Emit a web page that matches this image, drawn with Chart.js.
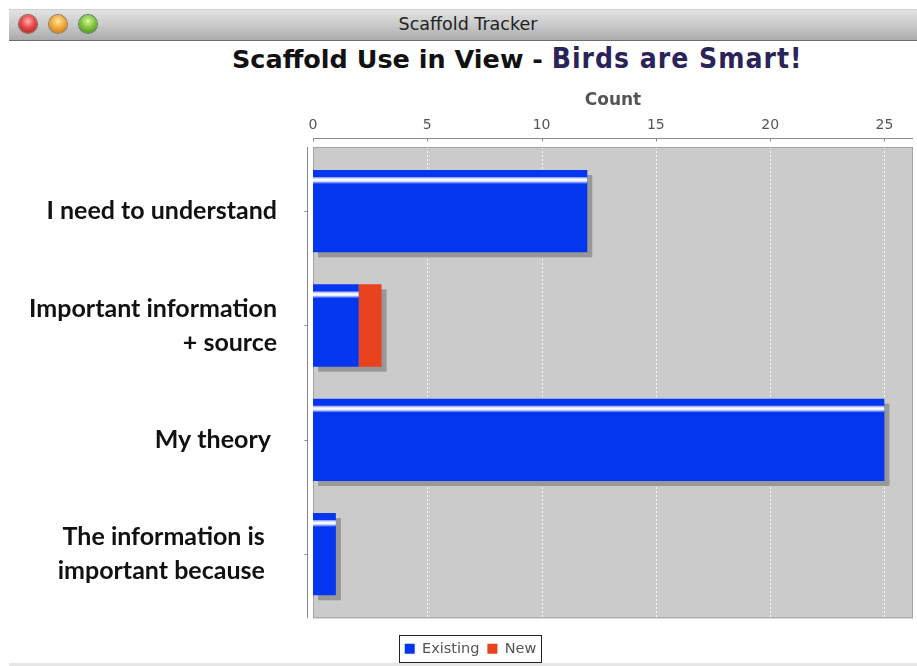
<!DOCTYPE html>
<html>
<head>
<meta charset="utf-8">
<script src="https://cdn.jsdelivr.net/npm/chart.js@4/dist/chart.umd.min.js"></script>
<style>
  html, body { margin: 0; padding: 0; background: #ffffff; }
  body { width: 917px; height: 666px; position: relative; overflow: hidden; }
  #titlebar { position: absolute; left: 9px; top: 9px; width: 908px; height: 30px;
    background: linear-gradient(#e2e2e2, #c9c9c9 50%, #ababab); border-bottom: 1px solid #6d6d6d;
    border-top: 1px solid #d0d0d0; }
  #titlebar .t { position: absolute; left: 0; width: 916px; top: 4px; text-align: center;
    font: 17.5px "DejaVu Sans", sans-serif; color: #222; margin-left: 1px; }
  .dot { position: absolute; top: 5px; width: 18px; height: 18px; border-radius: 50%; }
  #d1 { left: 10px; background: radial-gradient(circle at 50% 35%, #ffb0b0 0%, #e8474a 45%, #9e1b1d 100%); box-shadow: 0 0 0 1px #8a5a5a; }
  #d2 { left: 40px; background: radial-gradient(circle at 50% 35%, #ffe9a8 0%, #f4a93a 45%, #b7671a 100%); box-shadow: 0 0 0 1px #8a7a5a; }
  #d3 { left: 70px; background: radial-gradient(circle at 50% 35%, #d6f5a0 0%, #84c440 45%, #3f7d1a 100%); box-shadow: 0 0 0 1px #5a7a5a; }
  #charttitle { position: absolute; left: 232px; top: 42px; white-space: nowrap; }
  #charttitle .a { font: bold 25.5px "DejaVu Sans", sans-serif; color: #111; }
  #charttitle .b { font: bold 28px "DejaVu Sans Condensed", "DejaVu Sans", sans-serif; color: #2b2459; letter-spacing: 1px; }
  #bottombar { position: absolute; left: 9px; top: 663px; width: 908px; height: 3px; background: #e6e6e6; }
  #c { position: absolute; left: 0; top: 0; }
</style>
</head>
<body>
<div id="titlebar"><div class="dot" id="d1"></div><div class="dot" id="d2"></div><div class="dot" id="d3"></div><div class="t">Scaffold Tracker</div></div>
<div id="charttitle"><span class="a">Scaffold Use in View - </span><span class="b">Birds are Smart!</span></div>
<div id="bottombar"></div>
<canvas id="c" width="917" height="666"></canvas>
<script>
// ---- data ----
const categories = [
  ["I need to understand"],
  ["Important information", "+ source"],
  ["My theory "],
  ["The information is  ", "important because  "]
];
const seriesNames = ["Existing", "New"];
const existingValues = [12, 2, 25, 1];
const newValues = [0, 1, 0, 0];
const xTickValues = [0, 5, 10, 15, 20, 25];
const axisTitle = "Count";

const BLUE = "#0436f0";
const RED = "#e8421e";
const PLOT_EXT = 7;
const LEGEND_SHIFT = 14;

const chromePlugin = {
  id: "chrome",
  afterLayout(chart) {
    if (chart.legend) { chart.legend.left += LEGEND_SHIFT; chart.legend.right += LEGEND_SHIFT; }
  },
  beforeDatasetsDraw(chart) {
    const { ctx, chartArea: a, scales } = chart;
    const top = a.top - PLOT_EXT, bottom = a.bottom + PLOT_EXT;
    ctx.save();
    ctx.fillStyle = "#cbcbcb";
    ctx.fillRect(a.left, top, a.right - a.left, bottom - top);
    // grid lines
    ctx.strokeStyle = "rgba(255,255,255,0.85)";
    ctx.lineWidth = 1;
    ctx.setLineDash([2, 2]);
    xTickValues.forEach(v => {
      if (v === 0) return;
      const x = Math.round(scales.x.getPixelForValue(v)) + 0.5;
      ctx.beginPath(); ctx.moveTo(x, top); ctx.lineTo(x, bottom); ctx.stroke();
    });
    ctx.setLineDash([]);
    // outline
    ctx.strokeStyle = "#a2a2a2";
    ctx.strokeRect(a.left + 0.5, top + 0.5, a.right - a.left - 1, bottom - top - 1);
    // top axis line + ticks
    ctx.strokeStyle = "#8a8a8a";
    const ay = top - 8.5;
    ctx.beginPath(); ctx.moveTo(a.left, ay); ctx.lineTo(a.right, ay); ctx.stroke();
    xTickValues.forEach(v => {
      const x = Math.round(scales.x.getPixelForValue(v)) + 0.5;
      ctx.beginPath(); ctx.moveTo(x, ay); ctx.lineTo(x, ay + 3); ctx.stroke();
    });
    // left axis line + ticks
    const ax = a.left - 5.5;
    ctx.beginPath(); ctx.moveTo(ax, top); ctx.lineTo(ax, bottom); ctx.stroke();
    categories.forEach((c, i) => {
      const y = Math.round(scales.y.getPixelForValue(i)) + 0.5;
      ctx.beginPath(); ctx.moveTo(ax - 3, y); ctx.lineTo(ax, y); ctx.stroke();
    });
    // drop shadows of the full stacked bars
    ctx.fillStyle = "#989898";
    const metas = chart.data.datasets.map((d, di) => chart.getDatasetMeta(di));
    categories.forEach((c, i) => {
      let lo = Infinity, hi = -Infinity, yt = 0, h = 0;
      metas.forEach((m, di) => {
        const v = chart.data.datasets[di].data[i];
        if (!v) return;
        const p = m.data[i].getProps(["x", "y", "base", "height"], true);
        lo = Math.min(lo, p.base, p.x); hi = Math.max(hi, p.base, p.x);
        yt = p.y - p.height / 2; h = p.height;
      });
      if (hi > lo) ctx.fillRect(lo + 5, yt + 5, hi - lo, h);
    });
    ctx.restore();
  },
  afterDatasetsDraw(chart) {
    const { ctx } = chart;
    // highlight stripe on Existing bars
    const meta = chart.getDatasetMeta(0);
    ctx.save();
    meta.data.forEach((el, i) => {
      if (!existingValues[i]) return;
      const p = el.getProps(["x", "y", "base", "height"], true);
      const t = p.y - p.height / 2 + 7;
      const h = 7;
      const g = ctx.createLinearGradient(0, t, 0, t + h);
      g.addColorStop(0, "#7d92ff");
      g.addColorStop(0.35, "#ffffff");
      g.addColorStop(0.6, "#e6eaff");
      g.addColorStop(1, BLUE);
      ctx.fillStyle = g;
      ctx.fillRect(Math.min(p.base, p.x), t, Math.abs(p.x - p.base), h);
    });
    ctx.restore();
  },
  afterDraw(chart) {
    const lg = chart.legend;
    if (!lg || !lg.legendHitBoxes || !lg.legendHitBoxes.length) return;
    const hb = lg.legendHitBoxes;
    let l = Infinity, r = -Infinity, t = Infinity, b = -Infinity;
    hb.forEach(h => { l = Math.min(l, h.left); r = Math.max(r, h.left + h.width); t = Math.min(t, h.top); b = Math.max(b, h.top + h.height); });
    const ctx = chart.ctx;
    ctx.save();
    ctx.strokeStyle = "#222";
    ctx.lineWidth = 1;
    const cy = (t + b) / 2;
    ctx.strokeRect(Math.round(l - 6) + 0.5, Math.round(cy - 14) + 0.5, Math.round(r - l + 10), 27);
    ctx.restore();
  }
};

new Chart(document.getElementById("c"), {
  type: "bar",
  data: {
    labels: categories,
    datasets: [
      { label: seriesNames[0], data: existingValues, backgroundColor: BLUE, borderWidth: 0 },
      { label: seriesNames[1], data: newValues, backgroundColor: RED, borderWidth: 0 }
    ]
  },
  plugins: [chromePlugin],
  options: {
    indexAxis: "y",
    responsive: false,
    animation: false,
    events: [],
    layout: { padding: { top: 82, right: 4, bottom: 0, left: 0 } },
    datasets: { bar: { barPercentage: 0.72, categoryPercentage: 1.0 } },
    scales: {
      x: {
        type: "linear",
        position: "top",
        stacked: true,
        min: 0,
        max: 26.25,
        afterBuildTicks(scale) { scale.ticks = xTickValues.map(v => ({ value: v })); },
        afterFit(scale) { scale.height = 154 - 82; },
        grid: { display: false, drawTicks: false },
        border: { display: false },
        ticks: { padding: 20, color: "#555", font: { family: "'DejaVu Sans', sans-serif", size: 14 } },
        title: { display: true, text: axisTitle, color: "#555", padding: { top: 8, bottom: 0 },
          font: { family: "'DejaVu Sans', sans-serif", size: 17, weight: "bold" } }
      },
      y: {
        stacked: true,
        afterFit(scale) { scale.width = 313; },
        grid: { display: false, drawTicks: false },
        border: { display: false },
        ticks: { padding: 36, color: "#111", crossAlign: "near",
          font: { family: "Lato, 'Open Sans', sans-serif", size: 25, weight: "bold", lineHeight: 1.36 } }
      }
    },
    plugins: {
      legend: {
        position: "bottom",
        title: { display: true, text: " ", padding: { top: 21, bottom: 0 }, font: { size: 1 } },
        labels: { boxWidth: 10, boxHeight: 10, padding: 8, color: "#555",
          font: { family: "'DejaVu Sans', sans-serif", size: 14.5 } }
      },
      tooltip: { enabled: false }
    }
  }
});
</script>
</body>
</html>
